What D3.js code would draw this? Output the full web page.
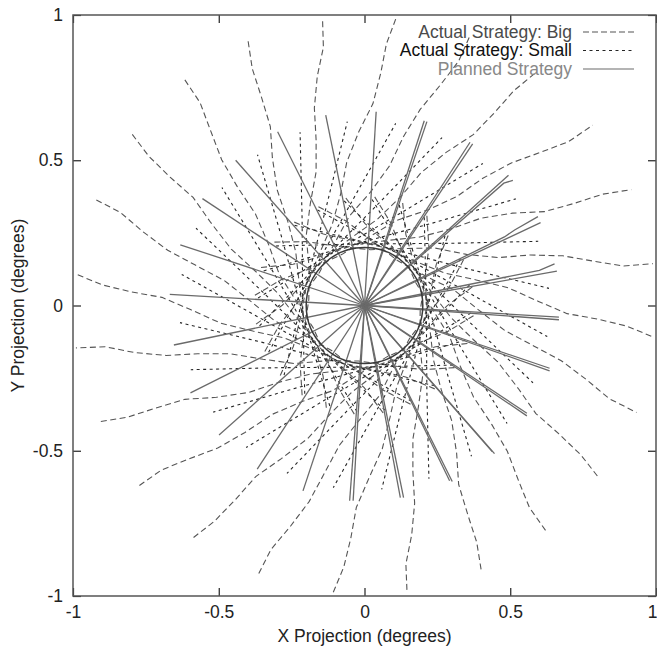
<!DOCTYPE html>
<html>
<head>
<meta charset="utf-8">
<script src="https://cdn.jsdelivr.net/npm/d3@7"></script>
<style>
    body { margin: 0; background: #fff; }
    svg { display: block; font-family: "Liberation Sans", Arial, sans-serif; }
</style>
</head>
<body>
<div id="chart"></div>
<script>
// Axis ticks (same on both axes)
const tickValues = [-1, -0.5, 0, 0.5, 1];
const legendLabels = ["Actual Strategy: Big", "Actual Strategy: Small", "Planned Strategy"];

// Radius of the central target circle (degrees)
const targetRadius = 0.2;

// Planned strategy rays (right half drawn twice)
const plannedPaths = [
    [[0, 0], [0.667, -0.040]], [[0, 0], [0.667, -0.049]],
    [[0, 0], [0.660, 0.118]], [[0, 0], [0.600, 0.121], [0.652, 0.143]],
    [[0, 0], [0.604, 0.285]], [[0, 0], [0.480, 0.236], [0.515, 0.260], [0.595, 0.306]],
    [[0, 0], [0.494, 0.448]], [[0, 0], [0.478, 0.421], [0.509, 0.431]],
    [[0, 0], [0.362, 0.562]], [[0, 0], [0.371, 0.556]],
    [[0, 0], [0.205, 0.636]], [[0, 0], [0.214, 0.633]],
    [[0, 0], [0.040, 0.667]],
    [[0, 0], [-0.133, 0.655]],
    [[0, 0], [-0.298, 0.598]],
    [[0, 0], [-0.442, 0.500]],
    [[0, 0], [-0.556, 0.368]],
    [[0, 0], [-0.632, 0.209]],
    [[0, 0], [-0.668, 0.038]],
    [[0, 0], [-0.654, -0.136]],
    [[0, 0], [-0.597, -0.301]],
    [[0, 0], [-0.499, -0.446]],
    [[0, 0], [-0.368, -0.563]],
    [[0, 0], [-0.211, -0.638]],
    [[0, 0], [-0.051, -0.672]], [[0, 0], [-0.039, -0.672]],
    [[0, 0], [0.123, -0.661]], [[0, 0], [0.134, -0.661]],
    [[0, 0], [0.292, -0.603]], [[0, 0], [0.301, -0.606]],
    [[0, 0], [0.438, -0.503]], [[0, 0], [0.446, -0.510]],
    [[0, 0], [0.557, -0.371]], [[0, 0], [0.557, -0.380]],
    [[0, 0], [0.635, -0.216]], [[0, 0], [0.635, -0.225]]
];

// Actual trajectories, big steps (long dashes)
const bigPaths = [
    [[-0.309, 0.218], [-0.199, 0.220], [-0.089, 0.203], [0.021, 0.192], [0.130, 0.196], [0.240, 0.198], [0.350, 0.176], [0.460, 0.165], [0.570, 0.174], [0.680, 0.171], [0.789, 0.152], [0.889, 0.136], [0.989, 0.144]],
    [[-0.355, 0.131], [-0.245, 0.142], [-0.139, 0.172], [-0.033, 0.210], [0.078, 0.224], [0.186, 0.235], [0.291, 0.262], [0.398, 0.300], [0.508, 0.318], [0.617, 0.323], [0.721, 0.352], [0.816, 0.383], [0.915, 0.399]],
    [[-0.376, 0.035], [-0.282, 0.091], [-0.178, 0.130], [-0.077, 0.176], [0.016, 0.236], [0.110, 0.293], [0.214, 0.328], [0.315, 0.374], [0.406, 0.438], [0.502, 0.490], [0.606, 0.528], [0.700, 0.564], [0.783, 0.621]],
    [[-0.372, -0.064], [-0.282, 0.001], [-0.206, 0.080], [-0.135, 0.165], [-0.047, 0.232], [0.043, 0.296], [0.122, 0.372], [0.194, 0.457], [0.280, 0.527], [0.373, 0.588], [0.449, 0.667], [0.513, 0.740], [0.588, 0.802]],
    [[-0.342, -0.158], [-0.289, -0.062], [-0.219, 0.023], [-0.155, 0.113], [-0.104, 0.212], [-0.052, 0.308], [0.021, 0.391], [0.086, 0.481], [0.134, 0.582], [0.191, 0.675], [0.261, 0.760], [0.323, 0.841], [0.364, 0.934]],
    [[-0.289, -0.241], [-0.244, -0.141], [-0.218, -0.035], [-0.198, 0.075], [-0.155, 0.178], [-0.111, 0.278], [-0.082, 0.383], [-0.061, 0.493], [-0.020, 0.597], [0.029, 0.695], [0.056, 0.801], [0.075, 0.900], [0.110, 0.994]],
    [[-0.214, -0.309], [-0.221, -0.199], [-0.207, -0.089], [-0.191, 0.021], [-0.190, 0.130], [-0.200, 0.240], [-0.186, 0.350], [-0.166, 0.460], [-0.166, 0.570], [-0.172, 0.680], [-0.162, 0.789], [-0.141, 0.889], [-0.144, 0.989]],
    [[-0.131, -0.352], [-0.142, -0.243], [-0.172, -0.139], [-0.210, -0.033], [-0.224, 0.078], [-0.236, 0.185], [-0.263, 0.289], [-0.299, 0.396], [-0.316, 0.508], [-0.323, 0.616], [-0.354, 0.719], [-0.385, 0.815], [-0.400, 0.915]],
    [[-0.035, -0.374], [-0.091, -0.282], [-0.130, -0.180], [-0.176, -0.077], [-0.236, 0.018], [-0.293, 0.109], [-0.329, 0.210], [-0.374, 0.315], [-0.437, 0.410], [-0.490, 0.502], [-0.528, 0.602], [-0.564, 0.698], [-0.621, 0.784]],
    [[0.064, -0.370], [-0.001, -0.283], [-0.080, -0.210], [-0.165, -0.135], [-0.232, -0.043], [-0.297, 0.042], [-0.373, 0.117], [-0.457, 0.194], [-0.527, 0.285], [-0.588, 0.372], [-0.667, 0.442], [-0.740, 0.514], [-0.802, 0.596]],
    [[0.158, -0.340], [0.062, -0.290], [-0.023, -0.224], [-0.113, -0.155], [-0.212, -0.100], [-0.308, -0.053], [-0.391, 0.015], [-0.481, 0.086], [-0.582, 0.140], [-0.675, 0.190], [-0.760, 0.254], [-0.838, 0.321], [-0.929, 0.368]],
    [[0.241, -0.287], [0.141, -0.246], [0.035, -0.223], [-0.075, -0.198], [-0.178, -0.150], [-0.278, -0.111], [-0.383, -0.088], [-0.493, -0.061], [-0.597, -0.014], [-0.695, 0.028], [-0.801, 0.047], [-0.900, 0.071], [-0.994, 0.110]],
    [[0.309, -0.214], [0.200, -0.221], [0.091, -0.207], [-0.020, -0.191], [-0.130, -0.190], [-0.239, -0.200], [-0.348, -0.185], [-0.460, -0.166], [-0.572, -0.166], [-0.681, -0.172], [-0.789, -0.162], [-0.890, -0.142], [-0.990, -0.146]],
    [[0.353, -0.131], [0.244, -0.142], [0.139, -0.172], [0.033, -0.210], [-0.078, -0.224], [-0.185, -0.236], [-0.289, -0.263], [-0.396, -0.299], [-0.508, -0.316], [-0.616, -0.323], [-0.719, -0.354], [-0.815, -0.385], [-0.915, -0.401]],
    [[0.374, -0.035], [0.283, -0.091], [0.182, -0.130], [0.078, -0.176], [-0.018, -0.236], [-0.109, -0.293], [-0.210, -0.329], [-0.315, -0.374], [-0.410, -0.437], [-0.502, -0.490], [-0.602, -0.528], [-0.696, -0.566], [-0.780, -0.625]],
    [[0.370, 0.064], [0.283, -0.001], [0.210, -0.080], [0.135, -0.165], [0.043, -0.232], [-0.042, -0.297], [-0.117, -0.373], [-0.194, -0.457], [-0.285, -0.527], [-0.372, -0.588], [-0.442, -0.667], [-0.514, -0.742], [-0.596, -0.806]],
    [[0.340, 0.158], [0.290, 0.062], [0.224, -0.023], [0.155, -0.113], [0.100, -0.212], [0.053, -0.308], [-0.015, -0.391], [-0.086, -0.481], [-0.140, -0.582], [-0.190, -0.675], [-0.254, -0.760], [-0.321, -0.840], [-0.368, -0.933]],
    [[0.287, 0.241], [0.246, 0.141], [0.223, 0.035], [0.198, -0.075], [0.150, -0.178], [0.111, -0.278], [0.088, -0.383], [0.061, -0.493], [0.014, -0.597], [-0.028, -0.695], [-0.047, -0.801], [-0.071, -0.900], [-0.110, -0.994]],
    [[0.214, 0.309], [0.221, 0.200], [0.207, 0.091], [0.191, -0.020], [0.190, -0.130], [0.200, -0.239], [0.185, -0.348], [0.166, -0.460], [0.166, -0.572], [0.172, -0.681], [0.162, -0.789], [0.142, -0.890], [0.146, -0.990]],
    [[0.131, 0.353], [0.142, 0.244], [0.172, 0.139], [0.210, 0.033], [0.224, -0.078], [0.236, -0.185], [0.263, -0.289], [0.299, -0.396], [0.316, -0.508], [0.323, -0.616], [0.354, -0.719], [0.385, -0.815], [0.401, -0.915]],
    [[0.035, 0.374], [0.091, 0.283], [0.130, 0.182], [0.176, 0.078], [0.236, -0.018], [0.293, -0.109], [0.329, -0.210], [0.374, -0.315], [0.437, -0.410], [0.490, -0.502], [0.528, -0.602], [0.566, -0.696], [0.625, -0.780]],
    [[-0.064, 0.370], [0.001, 0.283], [0.080, 0.210], [0.165, 0.135], [0.232, 0.043], [0.297, -0.042], [0.373, -0.117], [0.457, -0.194], [0.527, -0.285], [0.588, -0.372], [0.667, -0.442], [0.742, -0.514], [0.806, -0.596]],
    [[-0.158, 0.340], [-0.062, 0.290], [0.023, 0.224], [0.113, 0.155], [0.212, 0.100], [0.308, 0.053], [0.391, -0.015], [0.481, -0.086], [0.582, -0.140], [0.675, -0.190], [0.760, -0.254], [0.840, -0.321], [0.933, -0.368]],
    [[-0.241, 0.287], [-0.141, 0.246], [-0.035, 0.223], [0.075, 0.198], [0.178, 0.150], [0.278, 0.111], [0.383, 0.088], [0.493, 0.061], [0.597, 0.014], [0.695, -0.028], [0.801, -0.047], [0.900, -0.071], [0.994, -0.110]]
];

// Actual trajectories, small steps (short dashes)
const smallPaths = [
    [[-0.240, 0.276], [0.051, 0.206], [0.342, 0.129], [0.633, 0.059]],
    [[-0.304, 0.205], [-0.004, 0.212], [0.296, 0.214], [0.596, 0.221]],
    [[-0.346, 0.119], [-0.058, 0.204], [0.231, 0.283], [0.519, 0.367]],
    [[-0.365, 0.026], [-0.110, 0.181], [0.149, 0.333], [0.406, 0.489]],
    [[-0.360, -0.070], [-0.152, 0.148], [0.057, 0.360], [0.266, 0.578]],
    [[-0.329, -0.161], [-0.185, 0.103], [-0.040, 0.364], [0.107, 0.627]],
    [[-0.276, -0.240], [-0.206, 0.052], [-0.131, 0.340], [-0.059, 0.633]],
    [[-0.205, -0.304], [-0.212, -0.004], [-0.214, 0.296], [-0.221, 0.596]],
    [[-0.119, -0.346], [-0.204, -0.059], [-0.283, 0.231], [-0.367, 0.519]],
    [[-0.026, -0.365], [-0.181, -0.110], [-0.333, 0.149], [-0.489, 0.406]],
    [[0.070, -0.360], [-0.148, -0.152], [-0.360, 0.057], [-0.578, 0.266]],
    [[0.161, -0.329], [-0.103, -0.185], [-0.364, -0.040], [-0.627, 0.107]],
    [[0.240, -0.276], [-0.051, -0.206], [-0.342, -0.129], [-0.633, -0.059]],
    [[0.304, -0.205], [0.004, -0.212], [-0.296, -0.214], [-0.596, -0.221]],
    [[0.346, -0.119], [0.058, -0.204], [-0.231, -0.283], [-0.519, -0.367]],
    [[0.365, -0.026], [0.110, -0.181], [-0.149, -0.333], [-0.406, -0.489]],
    [[0.360, 0.070], [0.152, -0.148], [-0.057, -0.360], [-0.266, -0.578]],
    [[0.329, 0.161], [0.185, -0.103], [0.040, -0.364], [-0.107, -0.627]],
    [[0.276, 0.240], [0.206, -0.052], [0.131, -0.340], [0.059, -0.633]],
    [[0.205, 0.304], [0.212, 0.004], [0.214, -0.296], [0.221, -0.596]],
    [[0.119, 0.346], [0.204, 0.059], [0.283, -0.231], [0.367, -0.519]],
    [[0.026, 0.365], [0.181, 0.110], [0.333, -0.149], [0.489, -0.406]],
    [[-0.070, 0.360], [0.148, 0.152], [0.360, -0.057], [0.578, -0.266]],
    [[-0.161, 0.329], [0.103, 0.185], [0.364, 0.040], [0.627, -0.107]]
];

// Draws the whole figure
function drawChart() {
    const width = 657, height = 648;
    const plot = { left: 73, right: 656, top: 15, bottom: 596 };
    const fontSize = '17.5px';

    let svg = d3.select('#chart').append('svg')
        .attr('width', width)
        .attr('height', height);

    svg.append('rect')
        .attr('width', width)
        .attr('height', height)
        .attr('fill', '#fff');

    let x = d3.scaleLinear().domain([-1, 1]).range([plot.left, plot.right]);
    let y = d3.scaleLinear().domain([-1, 1]).range([plot.bottom, plot.top]);

    svg.append('clipPath').attr('id', 'plot-clip')
        .append('rect')
        .attr('x', plot.left).attr('y', plot.top)
        .attr('width', plot.right - plot.left)
        .attr('height', plot.bottom - plot.top);

    let area = svg.append('g').attr('clip-path', 'url(#plot-clip)');

    let line = d3.line()
        .x(d => x(d[0]))
        .y(d => y(d[1]));

    // Actual strategy: big
    area.selectAll('path.big')
        .data(bigPaths)
        .enter()
        .append('path')
        .attr('class', 'big')
        .attr('d', line)
        .attr('fill', 'none')
        .attr('stroke', '#555')
        .attr('stroke-width', 1.1)
        .attr('stroke-dasharray', '6,3.5');

    // Actual strategy: small
    area.selectAll('path.small')
        .data(smallPaths)
        .enter()
        .append('path')
        .attr('class', 'small')
        .attr('d', line)
        .attr('fill', 'none')
        .attr('stroke', '#262626')
        .attr('stroke-width', 1.1)
        .attr('stroke-dasharray', '3,3.5');

    // Planned strategy
    area.selectAll('path.planned')
        .data(plannedPaths)
        .enter()
        .append('path')
        .attr('class', 'planned')
        .attr('d', line)
        .attr('fill', 'none')
        .attr('stroke', '#6a6a6a')
        .attr('stroke-width', 1.3);

    // Target circle
    area.append('ellipse')
        .attr('cx', x(0))
        .attr('cy', y(0))
        .attr('rx', x(targetRadius) - x(0))
        .attr('ry', y(0) - y(targetRadius))
        .attr('fill', 'none')
        .attr('stroke', '#3a3a3a')
        .attr('stroke-width', 1.5);

    // Axes: ticks point inwards on all four sides
    let fmt = d => String(d);

    let bottomAxis = svg.append('g')
        .attr('transform', `translate(0,${plot.bottom})`)
        .call(d3.axisBottom(x).tickValues(tickValues).tickSizeInner(-8).tickSizeOuter(0).tickPadding(10).tickFormat(fmt));

    let leftAxis = svg.append('g')
        .attr('transform', `translate(${plot.left},0)`)
        .call(d3.axisLeft(y).tickValues(tickValues).tickSizeInner(-8).tickSizeOuter(0).tickPadding(10).tickFormat(fmt));

    let topAxis = svg.append('g')
        .attr('transform', `translate(0,${plot.top})`)
        .call(d3.axisTop(x).tickValues(tickValues).tickSizeInner(-8).tickSizeOuter(0).tickFormat(''));

    let rightAxis = svg.append('g')
        .attr('transform', `translate(${plot.right},0)`)
        .call(d3.axisRight(y).tickValues(tickValues).tickSizeInner(-8).tickSizeOuter(0).tickFormat(''));

    [bottomAxis, leftAxis, topAxis, rightAxis].forEach(g => {
        g.select('.domain').remove();
        g.selectAll('.tick line').attr('stroke', '#222').attr('stroke-width', 1.2);
        g.selectAll('.tick text')
            .attr('fill', '#222')
            .style('font-size', fontSize)
            .style('font-family', '"Liberation Sans", Arial, sans-serif');
    });

    // keep the last x label inside the page
    bottomAxis.selectAll('.tick text').filter(d => d === 1).attr('dx', -4);

    // Frame
    svg.append('rect')
        .attr('x', plot.left).attr('y', plot.top)
        .attr('width', plot.right - plot.left)
        .attr('height', plot.bottom - plot.top)
        .attr('fill', 'none')
        .attr('stroke', '#555')
        .attr('stroke-width', 1.5);

    // Axis titles
    svg.append('text')
        .attr('x', (plot.left + plot.right) / 2)
        .attr('y', 642)
        .attr('text-anchor', 'middle')
        .attr('fill', '#222')
        .style('font-size', fontSize)
        .text('X Projection (degrees)');

    svg.append('text')
        .attr('transform', `translate(24,${(plot.top + plot.bottom) / 2}) rotate(-90)`)
        .attr('text-anchor', 'middle')
        .attr('fill', '#222')
        .style('font-size', fontSize)
        .text('Y Projection (degrees)');

    // Legend
    const legendStyles = [
        { stroke: '#555', dash: '6,3', text: '#4a4a4a' },
        { stroke: '#262626', dash: '3,3.5', text: '#111' },
        { stroke: '#6a6a6a', dash: null, text: '#888' }
    ];
    let legend = svg.append('g').attr('id', 'legend');
    legendLabels.forEach((label, i) => {
        let yRow = 32 + i * 18.5;
        legend.append('text')
            .attr('x', 572)
            .attr('y', yRow + 5.5)
            .attr('text-anchor', 'end')
            .attr('fill', legendStyles[i].text)
            .style('font-size', fontSize)
            .text(label);
        legend.append('line')
            .attr('x1', 583).attr('x2', 634)
            .attr('y1', yRow).attr('y2', yRow)
            .attr('stroke', legendStyles[i].stroke)
            .attr('stroke-width', 1.1)
            .attr('stroke-dasharray', legendStyles[i].dash);
    });
}

drawChart();
</script>
</body>
</html>
